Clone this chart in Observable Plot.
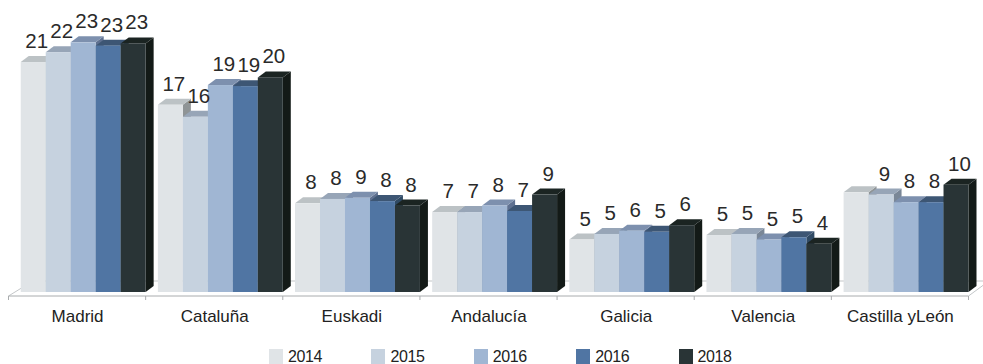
<!DOCTYPE html>
<html>
<head>
<meta charset="utf-8">
<script src="https://cdn.jsdelivr.net/npm/d3@7"></script>
<script src="https://cdn.jsdelivr.net/npm/@observablehq/plot@0.6"></script>
<style>
html,body{margin:0;padding:0;background:#fff;overflow:hidden}
#legend{display:flex;height:20px;padding-left:269px;font:16px "Liberation Sans",sans-serif;letter-spacing:-.4px;color:#222}
#legend div{width:102.4px;display:flex;align-items:flex-start;box-sizing:border-box}
#legend i{display:block;width:14px;height:15px;margin-right:5px;margin-top:5px}
#legend span{line-height:15px;margin-top:4.5px}
</style>
</head>
<body>
<div id="chart"></div>
<div id="legend"></div>
<script>
const categories = ["Madrid","Cataluña","Euskadi","Andalucía","Galicia","Valencia","Castilla yLeón"];
const seriesLabels = ["2014","2015","2016","2016","2018"];
const colors = ["#E0E4E7","#C6D2DF","#A0B6D3","#5075A3","#293436"];
const topColors = ["#BCC2C5","#97A5B7","#7D90AE","#3D5674","#1B2422"];
const sideColors = ["#8F9496","#7A8797","#5F7191","#304A64","#131A17"];
const values = [
  [21.0,21.9,22.8,22.5,22.7],
  [17.1,16.0,18.9,18.8,19.6],
  [8.1,8.5,8.6,8.3,7.9],
  [7.3,7.3,7.9,7.4,8.9],
  [4.8,5.3,5.6,5.5,6.1],
  [5.2,5.3,4.8,5.0,4.4],
  [9.1,8.9,8.2,8.2,9.8]
];
const labels = [
  [21,22,23,23,23],
  [17,16,19,19,20],
  [8,8,9,8,8],
  [7,7,8,7,9],
  [5,5,6,5,6],
  [5,5,5,5,4],
  [null,9,8,8,10]
];
const depthX = 8, depthY = 6;
const seriesIdx = seriesLabels.map((_, i) => i);
const rows = categories.flatMap((c, ci) => seriesIdx.map(si => ({
  category: c, series: si, value: values[ci][si], label: labels[ci][si]
})));

const chart = Plot.plot({
  width: 983, height: 344,
  marginTop: 0, marginLeft: 8.5, marginRight: 14.5, marginBottom: 52,
  style: {background: "transparent"},
  fx: {domain: categories, paddingInner: 0, paddingOuter: 0, round: false, label: null, axis: null},
  x: {domain: seriesIdx, paddingInner: 0, paddingOuter: 0.245, align: 1, round: false, axis: null},
  y: {domain: [0, 292 / 10.95], axis: null},
  color: {domain: seriesIdx, range: colors},
  marks: [
    Plot.barY(rows, {
      fx: "category", x: "series", y: "value", fill: "series",
      render(index, scales, vals, dims, ctx, next) {
        const g = next(index, scales, vals, dims, ctx);
        const rects = g.querySelectorAll("rect");
        const ns = "http://www.w3.org/2000/svg";
        Array.from(index).forEach((i, k) => {
          const r = rects[k];
          const x0 = +r.getAttribute("x"), w = +r.getAttribute("width");
          const yT = +r.getAttribute("y"), h = +r.getAttribute("height");
          const x1 = x0 + w, yB = yT + h;
          const s = rows[i].series;
          const side = document.createElementNS(ns, "polygon");
          side.setAttribute("points", `${x1},${yT} ${x1 + depthX},${yT - depthY} ${x1 + depthX},${yB - depthY} ${x1},${yB}`);
          side.setAttribute("fill", sideColors[s]);
          const top = document.createElementNS(ns, "polygon");
          top.setAttribute("points", `${x0},${yT} ${x0 + depthX},${yT - depthY} ${x1 + depthX},${yT - depthY} ${x1},${yT}`);
          top.setAttribute("fill", topColors[s]);
          r.parentNode.insertBefore(side, r);
          r.parentNode.insertBefore(top, r);
        });
        return g;
      }
    }),
    Plot.text(rows.filter(d => d.label != null), {
      fx: "category", x: "series", y: "value", text: "label",
      dx: 3, dy: -21, fontSize: 20.5, fill: "#2a2a2a",
      fontFamily: "'Liberation Sans',sans-serif"
    }),
    Plot.text(categories, {
      fx: d => d, frameAnchor: "bottom", text: d => d, dy: 29.5,
      fontSize: 17, fill: "#222", fontFamily: "'Liberation Sans',sans-serif"
    })
  ]
});

// Chart floor and axis, placed through the chart's own scales
const fxS = chart.scale("fx"), yS = chart.scale("y");
const svg = d3.select(chart);
const y0 = yS.apply(0);
const left = fxS.apply(categories[0]);
const right = fxS.apply(categories[categories.length - 1]) + fxS.bandwidth;
const axisY = y0 + 4;
const floor = svg.insert("g", "g").attr("stroke", "#C4C7C9").attr("fill", "none");
floor.append("line").attr("x1", left + 13).attr("x2", right + 15).attr("y1", y0 - 11).attr("y2", y0 - 11);
floor.append("line").attr("x1", left).attr("y1", axisY).attr("x2", left + 13).attr("y2", axisY - 8);
floor.append("line").attr("x1", right).attr("y1", axisY).attr("x2", right + 15).attr("y2", axisY - 11);
const ax = svg.append("g").attr("stroke", "#A9ACAE").attr("fill", "none");
ax.append("line").attr("x1", left).attr("x2", right).attr("y1", axisY).attr("y2", axisY);
[...categories.map(c => fxS.apply(c)), right].forEach(x => {
  ax.append("line").attr("x1", x).attr("x2", x).attr("y1", axisY).attr("y2", axisY + 4);
});

document.getElementById("chart").append(chart);
chart.style.display = "block";

const legend = d3.select("#legend");
seriesLabels.forEach((l, i) => {
  const it = legend.append("div");
  it.append("i").style("background", colors[i]);
  it.append("span").text(l);
});
</script>
</body>
</html>
